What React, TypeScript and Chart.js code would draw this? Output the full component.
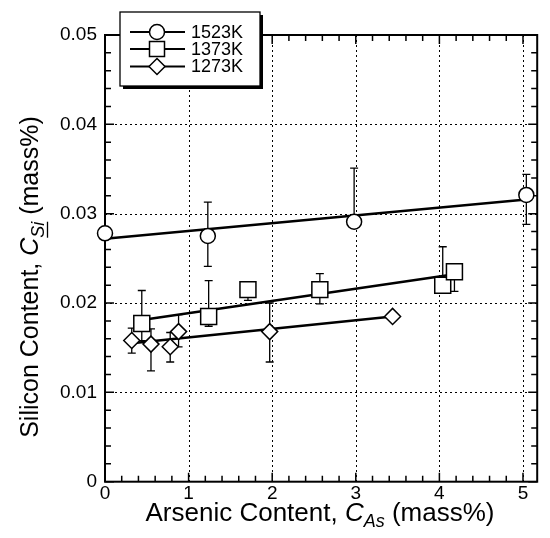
import React, { useEffect, useRef } from "react";
import { Chart, registerables } from "chart.js";

Chart.register(...registerables);

// ---- data ----
const seriesLabels = ["1523K", "1373K", "1273K"];

const x1523 = [0, 1.23, 2.98, 5.04];
const y1523 = [0.0278, 0.0275, 0.0291, 0.0321];
const hi1523: (number | null)[] = [null, 0.0313, 0.0351, 0.0344];
const lo1523: (number | null)[] = [null, 0.0241, null, 0.0288];

const x1373 = [0.44, 1.24, 1.71, 2.57, 4.04, 4.18];
const y1373 = [0.0177, 0.0185, 0.0215, 0.0215, 0.022, 0.0235];
const hi1373: (number | null)[] = [0.0214, 0.0225, null, 0.0233, 0.0263, null];
const lo1373: (number | null)[] = [0.0158, 0.0174, 0.0203, 0.0199, 0.0211, 0.0213];

const x1273 = [0.32, 0.55, 0.78, 0.88, 1.97, 3.44];
const y1273 = [0.0158, 0.0154, 0.0151, 0.0168, 0.0168, 0.0185];
const hi1273: (number | null)[] = [0.0172, 0.0171, 0.0167, 0.0187, 0.02, null];
const lo1273: (number | null)[] = [0.0144, 0.0124, 0.0134, 0.0151, 0.0134, null];

const fitX1523 = [0, 5.04];
const fitY1523 = [0.0272, 0.0316];
const fitX1373 = [0.44, 4.1];
const fitY1373 = [0.0181, 0.0231];
const fitX1273 = [0.32, 3.44];
const fitY1273 = [0.0155, 0.0185];

const xMajorTicks = [0, 1, 2, 3, 4, 5];
const yMajorTicks = [0, 0.01, 0.02, 0.03, 0.04, 0.05];

const FONT = "'Liberation Sans', Arial, Helvetica, sans-serif";

const pts = (xs: number[], ys: number[]) => xs.map((x, i) => ({ x, y: ys[i] }));

type Seg = { t: string; size: number; italic?: boolean; dy?: number; underline?: boolean };

function drawRich(ctx: CanvasRenderingContext2D, segs: Seg[], cx: number, baseY: number) {
  const widths = segs.map((s) => {
    ctx.font = `${s.italic ? "italic " : ""}${s.size}px ${FONT}`;
    return ctx.measureText(s.t).width;
  });
  const total = widths.reduce((a, b) => a + b, 0);
  let x = cx - total / 2;
  ctx.textAlign = "left";
  ctx.textBaseline = "alphabetic";
  segs.forEach((s, i) => {
    ctx.font = `${s.italic ? "italic " : ""}${s.size}px ${FONT}`;
    const y = baseY + (s.dy || 0);
    ctx.fillText(s.t, x, y);
    if (s.underline) {
      ctx.beginPath();
      ctx.lineWidth = 1.3;
      ctx.moveTo(x, y + 3.5);
      ctx.lineTo(x + widths[i], y + 3.5);
      ctx.stroke();
    }
    x += widths[i];
  });
}

function drawMarker(ctx: CanvasRenderingContext2D, style: string, x: number, y: number, r: number) {
  ctx.beginPath();
  if (style === "circle") {
    ctx.arc(x, y, r, 0, Math.PI * 2);
  } else if (style === "rect") {
    ctx.rect(x - r, y - r, 2 * r, 2 * r);
  } else {
    ctx.moveTo(x, y - r);
    ctx.lineTo(x + r, y);
    ctx.lineTo(x, y + r);
    ctx.lineTo(x - r, y);
    ctx.closePath();
  }
  ctx.fillStyle = "#fff";
  ctx.fill();
  ctx.lineWidth = 1.5;
  ctx.strokeStyle = "#000";
  ctx.stroke();
}

const decorPlugin = {
  id: "decor",
  beforeDatasetsDraw(chart: any) {
    const { ctx, chartArea: a, scales } = chart;
    const xs = scales.x;
    const ys = scales.y;
    ctx.save();
    // dotted grid
    ctx.strokeStyle = "#000";
    ctx.lineWidth = 1;
    ctx.setLineDash([2, 3]);
    xMajorTicks.slice(1).forEach((v) => {
      const px = Math.round(xs.getPixelForValue(v)) + 0.5;
      ctx.beginPath();
      ctx.moveTo(px, a.top);
      ctx.lineTo(px, a.bottom);
      ctx.stroke();
    });
    yMajorTicks.slice(1, -1).forEach((v) => {
      const py = Math.round(ys.getPixelForValue(v)) + 0.5;
      ctx.beginPath();
      ctx.moveTo(a.left, py);
      ctx.lineTo(a.right, py);
      ctx.stroke();
    });
    ctx.setLineDash([]);
    // frame + inward ticks on all four sides
    ctx.lineWidth = 2;
    ctx.strokeRect(a.left, a.top, a.right - a.left, a.bottom - a.top);
    ctx.lineWidth = 1.5;
    for (let k = 0; k <= 26; k++) {
      const v = k * 0.2;
      if (v > xs.max + 1e-9) break;
      const px = xs.getPixelForValue(v);
      const len = k % 5 === 0 ? 9 : 6;
      ctx.beginPath();
      ctx.moveTo(px, a.bottom);
      ctx.lineTo(px, a.bottom - len);
      ctx.moveTo(px, a.top);
      ctx.lineTo(px, a.top + len);
      ctx.stroke();
    }
    for (let k = 0; k <= 25; k++) {
      const v = k * 0.002;
      const py = ys.getPixelForValue(v);
      const len = k % 5 === 0 ? 9 : 6;
      ctx.beginPath();
      ctx.moveTo(a.left, py);
      ctx.lineTo(a.left + len, py);
      ctx.moveTo(a.right, py);
      ctx.lineTo(a.right - len, py);
      ctx.stroke();
    }
    // error bars
    const groups: [number[], number[], (number | null)[], (number | null)[]][] = [
      [x1523, y1523, hi1523, lo1523],
      [x1373, y1373, hi1373, lo1373],
      [x1273, y1273, hi1273, lo1273],
    ];
    ctx.lineWidth = 1.3;
    groups.forEach(([gx, gy, hi, lo]) => {
      gx.forEach((xv, i) => {
        const px = xs.getPixelForValue(xv);
        const py = ys.getPixelForValue(gy[i]);
        [hi[i], lo[i]].forEach((e) => {
          if (e == null) return;
          const pe = ys.getPixelForValue(e);
          ctx.beginPath();
          ctx.moveTo(px, py);
          ctx.lineTo(px, pe);
          ctx.moveTo(px - 4, pe);
          ctx.lineTo(px + 4, pe);
          ctx.stroke();
        });
      });
    });
    ctx.restore();
  },
  afterDraw(chart: any) {
    const { ctx } = chart;
    ctx.save();
    ctx.strokeStyle = "#000";
    ctx.fillStyle = "#000";
    // legend
    const lx = 120, ly = 12, lw = 140, lh = 74;
    ctx.fillStyle = "#000";
    ctx.fillRect(lx + 3, ly + 3, lw, lh);
    ctx.fillStyle = "#fff";
    ctx.fillRect(lx, ly, lw, lh);
    ctx.lineWidth = 1.3;
    ctx.strokeRect(lx, ly, lw, lh);
    const styles = ["circle", "rect", "rectRot"];
    const rows = [32, 49, 66.5];
    seriesLabels.forEach((lab, i) => {
      const yy = rows[i];
      ctx.beginPath();
      ctx.lineWidth = 2;
      ctx.strokeStyle = "#000";
      ctx.moveTo(130, yy);
      ctx.lineTo(185, yy);
      ctx.stroke();
      drawMarker(ctx, styles[i], 157, yy, styles[i] === "rectRot" ? 8 : 7.5);
      ctx.fillStyle = "#000";
      ctx.font = `18px ${FONT}`;
      ctx.textAlign = "left";
      ctx.textBaseline = "middle";
      ctx.fillText(lab, 191, yy + 1);
    });
    // axis titles
    ctx.fillStyle = "#000";
    ctx.strokeStyle = "#000";
    drawRich(
      ctx,
      [
        { t: "Arsenic Content,", size: 26 },
        { t: " C", size: 26, italic: true },
        { t: "As", size: 18, italic: true, dy: 6 },
        { t: " (mass%)", size: 26 },
      ],
      320,
      521
    );
    ctx.save();
    ctx.translate(38, 277);
    ctx.rotate(-Math.PI / 2);
    drawRich(
      ctx,
      [
        { t: "Silicon Content, ", size: 25 },
        { t: "C", size: 25, italic: true },
        { t: "Si", size: 18, italic: true, dy: 6, underline: true },
        { t: " (mass%)", size: 25 },
      ],
      0,
      0
    );
    ctx.restore();
    ctx.restore();
  },
};

export default function App() {
  const ref = useRef<HTMLCanvasElement | null>(null);
  useEffect(() => {
    if (!ref.current) return;
    const lineDs = (xs: number[], ys: number[]) => ({
      type: "line" as const,
      data: pts(xs, ys),
      borderColor: "#000",
      borderWidth: 2.5,
      pointRadius: 0,
      fill: false,
      clip: false,
      order: 2,
    });
    const markDs = (xs: number[], ys: number[], style: string, r: number) => ({
      type: "scatter" as const,
      data: pts(xs, ys),
      pointStyle: style,
      pointRadius: r,
      backgroundColor: "#fff",
      borderColor: "#000",
      borderWidth: 1.5,
      clip: false,
      order: 1,
    });
    const chart = new Chart(ref.current, {
      type: "scatter",
      data: {
        datasets: [
          lineDs(fitX1523, fitY1523),
          lineDs(fitX1373, fitY1373),
          lineDs(fitX1273, fitY1273),
          markDs(x1523, y1523, "circle", 7.5),
          markDs(x1373, y1373, "rect", 11.3),
          markDs(x1273, y1273, "rectRot", 8),
        ] as any,
      },
      options: {
        animation: false,
        responsive: false,
        events: [],
        layout: { padding: { top: 35, right: 4, left: 0, bottom: 0 } },
        plugins: { legend: { display: false }, tooltip: { enabled: false } },
        scales: {
          x: {
            type: "linear",
            min: 0,
            max: 5.17,
            grid: { display: false, drawTicks: false },
            border: { display: false },
            ticks: {
              stepSize: 1,
              includeBounds: false,
              padding: 1,
              color: "#000",
              font: { size: 19, family: FONT },
              maxRotation: 0,
              callback: (v: any) => (Number.isInteger(v) ? String(v) : ""),
            },
            afterFit: (s: any) => {
              s.height = 56.3;
            },
          },
          y: {
            type: "linear",
            min: 0,
            max: 0.05,
            grid: { display: false, drawTicks: false },
            border: { display: false },
            ticks: {
              stepSize: 0.01,
              padding: 8,
              color: "#000",
              font: { size: 19, family: FONT },
              callback: (v: any) => (v === 0 ? "0" : Number(v).toFixed(2)),
            },
            afterFit: (s: any) => {
              s.width = 105;
            },
          },
        },
      },
      plugins: [decorPlugin],
    } as any);
    return () => chart.destroy();
  }, []);
  return (
    <div style={{ position: "fixed", left: 0, top: 0, width: 550, height: 538, background: "#fff" }}>
      <canvas ref={ref} width={550} height={538} />
    </div>
  );
}
